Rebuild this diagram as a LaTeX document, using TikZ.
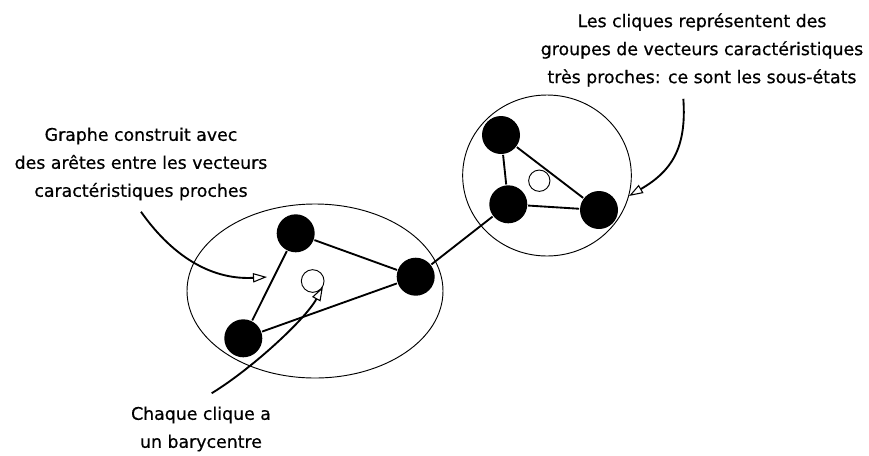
\documentclass[tikz,border=0pt]{standalone}
\usepackage{fontspec}
\setmainfont[BoldFont={DejaVu Sans},BoldFeatures={FakeBold=0.6}]{DejaVu Sans}
\usetikzlibrary{arrows.meta}
\usetikzlibrary{shapes.geometric}

\begin{document}
\begin{tikzpicture}[x=0.75pt,y=-0.75pt,
                >={Triangle[open,length=10.5pt,width=7pt,line width=0.8pt]},
                line width=1.4pt,
                main node/.style={circle,fill=black,inner sep=0pt,minimum size=28.5pt},
                bary node/.style={circle,draw,line width=0.7pt,inner sep=0pt,minimum size=17pt},
                clique/.style={ellipse,draw,line width=0.7pt,inner sep=0pt},
                note/.style={align=center,font=\fontsize{13}{21}\selectfont\bfseries}]

  \useasboundingbox (0,0) rectangle (869,455);

  % cliques
  \node[clique,minimum width=192pt,minimum height=130.5pt] (k1) at (315,291) {};
  \node[clique,minimum width=126.5pt,minimum height=120.75pt] (k2) at (547,175.5) {};

  % barycentres
  \node[bary node] (b1) at (312.7,281) {};
  \node[bary node,minimum size=16pt] (b2) at (539.3,180.7) {};

  % vecteurs
  \node[main node] (1) at (295.7,233.3) {};
  \node[main node] (2) at (243.3,338.3) {};
  \node[main node] (3) at (415.7,276.7) {};
  \node[main node] (4) at (501,135) {};
  \node[main node] (5) at (508.3,204.3) {};
  \node[main node] (6) at (599,210) {};

  \path
    (1) edge (2)
        edge (3)
    (2) edge (3)
    (3) edge (5)
    (4) edge (5)
        edge (6)
    (5) edge (6);

  % textes
  \node[note] (txt1) at (141,164) {Graphe construit avec\\des arêtes entre les vecteurs\\caractéristiques proches};
  \node[note] (txt2) at (702,50) {Les cliques représentent des\\groupes de vecteurs caractéristiques\\très proches: ce sont les sous-états};
  \node[note] (txt3) at (201,429) {Chaque clique a\\un barycentre};

  \coordinate (p1) at (267,277);

  \draw[->] ([yshift=-4.5pt]txt1.south) .. controls (175,260) and (215,280) .. (p1);
  \draw[->] ([xshift=8pt,yshift=6pt]txt3.north) .. controls (250,370) and (305,320) .. (b1.-30);
  \draw[->] ([xshift=-14pt,yshift=-5pt]txt2.south) .. controls (687,150) and (670,172) .. (k2.-14);
\end{tikzpicture}
\end{document}
